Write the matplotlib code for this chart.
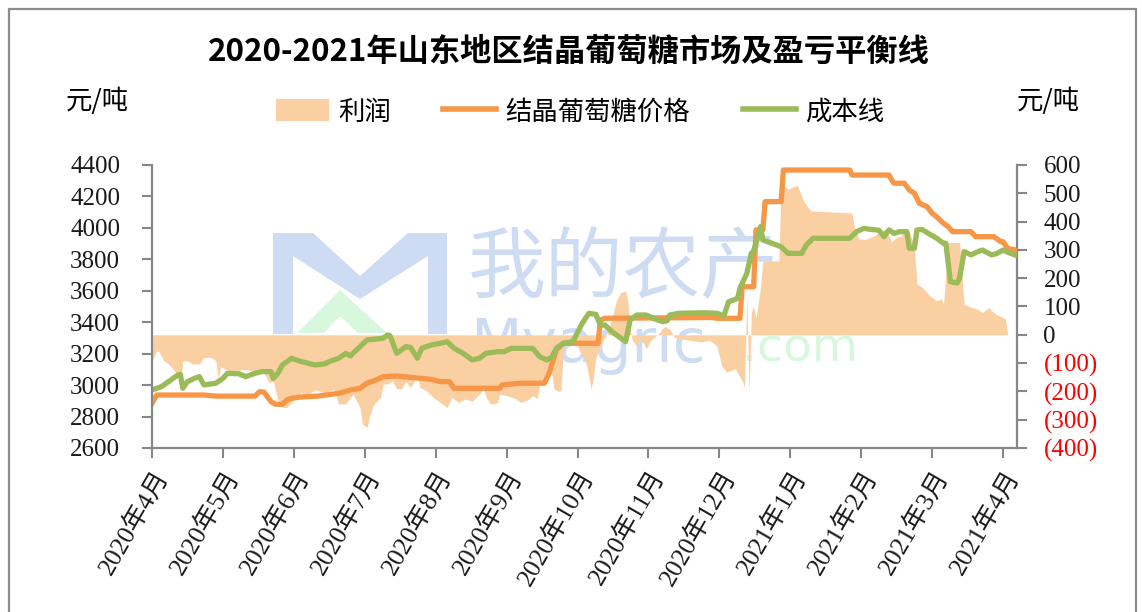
import datetime as dt
import calendar
import matplotlib
matplotlib.use("Agg")
import matplotlib.pyplot as plt
from matplotlib.patches import Polygon, Rectangle, Patch
from matplotlib.lines import Line2D
from matplotlib.ticker import FixedLocator, FuncFormatter

CJK = ["Noto Sans CJK SC", "DejaVu Sans"]
SERIF = ["Liberation Serif", "Noto Sans CJK SC"]

title = "2020-2021年山东地区结晶葡萄糖市场及盈亏平衡线"
unit = "元/吨"
series_names = ["利润", "结晶葡萄糖价格", "成本线"]
tick_labels = ["2020年4月", "2020年5月", "2020年6月", "2020年7月", "2020年8月",
               "2020年9月", "2020年10月", "2020年11月", "2020年12月",
               "2021年1月", "2021年2月", "2021年3月", "2021年4月"]

price_dates = ["2020-04-01", "2020-04-03", "2020-04-23", "2020-04-28", "2020-05-15", "2020-05-17",
               "2020-05-19", "2020-05-22", "2020-05-24", "2020-05-27", "2020-05-29", "2020-05-31",
               "2020-06-04", "2020-06-11", "2020-06-20", "2020-06-25", "2020-06-29", "2020-07-02",
               "2020-07-06", "2020-07-09", "2020-07-15", "2020-07-22", "2020-07-30", "2020-08-03",
               "2020-08-07", "2020-08-09", "2020-08-29", "2020-08-30", "2020-09-07", "2020-09-17",
               "2020-09-19", "2020-09-22", "2020-09-25", "2020-10-10", "2020-10-11", "2020-10-13",
               "2020-11-28", "2020-11-30", "2020-12-10", "2020-12-11", "2020-12-16", "2020-12-17",
               "2020-12-20", "2020-12-21", "2020-12-28", "2020-12-29", "2021-01-27", "2021-01-28",
               "2021-02-12", "2021-02-13", "2021-02-14", "2021-02-18", "2021-02-20", "2021-02-22",
               "2021-02-24", "2021-02-27", "2021-03-01", "2021-03-03", "2021-03-06", "2021-03-08",
               "2021-03-10", "2021-03-18", "2021-03-20", "2021-03-28", "2021-03-31", "2021-04-01",
               "2021-04-03", "2021-04-06"]
price_vals = [2885, 2937, 2937, 2930, 2930, 2958,
              2955, 2895, 2878, 2878, 2906, 2916,
              2925, 2930, 2948, 2969, 2980, 3012,
              3033, 3054, 3058, 3048, 3037, 3022,
              3022, 2980, 2980, 3001, 3012, 3012,
              3075, 3223, 3266, 3266, 3414, 3425,
              3430, 3425, 3425, 3626, 3626, 3987,
              3987, 4167, 4167, 4368, 4368, 4336,
              4336, 4305, 4284, 4284, 4241, 4220,
              4156, 4135, 4093, 4070, 4029, 4008,
              3976, 3976, 3944, 3944, 3912, 3912,
              3870, 3860]

cost_dates = ["2020-04-01", "2020-04-05", "2020-04-09", "2020-04-12", "2020-04-13", "2020-04-14",
              "2020-04-16", "2020-04-19", "2020-04-21", "2020-04-23", "2020-04-28", "2020-05-01",
              "2020-05-03", "2020-05-08", "2020-05-11", "2020-05-15", "2020-05-18", "2020-05-22",
              "2020-05-23", "2020-05-25", "2020-05-27", "2020-05-31", "2020-06-04", "2020-06-10",
              "2020-06-14", "2020-06-16", "2020-06-20", "2020-06-23", "2020-06-25", "2020-06-26",
              "2020-06-29", "2020-07-02", "2020-07-09", "2020-07-11", "2020-07-12", "2020-07-15",
              "2020-07-19", "2020-07-21", "2020-07-24", "2020-07-26", "2020-07-30", "2020-08-03",
              "2020-08-06", "2020-08-09", "2020-08-13", "2020-08-17", "2020-08-20", "2020-08-23",
              "2020-08-28", "2020-08-31", "2020-09-03", "2020-09-12", "2020-09-15", "2020-09-18",
              "2020-09-20", "2020-09-22", "2020-09-25", "2020-09-29", "2020-10-03", "2020-10-06",
              "2020-10-09", "2020-10-11", "2020-10-13", "2020-10-16", "2020-10-20", "2020-10-22",
              "2020-10-24", "2020-10-27", "2020-10-31", "2020-11-03", "2020-11-07", "2020-11-09",
              "2020-11-10", "2020-11-14", "2020-11-24", "2020-11-30", "2020-12-03", "2020-12-05",
              "2020-12-09", "2020-12-10", "2020-12-13", "2020-12-15", "2020-12-16", "2020-12-19",
              "2020-12-20", "2020-12-24", "2020-12-28", "2020-12-31", "2021-01-06", "2021-01-08",
              "2021-01-11", "2021-01-27", "2021-01-30", "2021-02-02", "2021-02-04", "2021-02-08",
              "2021-02-10", "2021-02-12", "2021-02-14", "2021-02-16", "2021-02-19", "2021-02-20",
              "2021-02-22", "2021-02-23", "2021-02-25", "2021-02-27", "2021-03-03", "2021-03-06",
              "2021-03-07", "2021-03-09", "2021-03-12", "2021-03-13", "2021-03-15", "2021-03-18",
              "2021-03-21", "2021-03-23", "2021-03-27", "2021-03-29", "2021-04-01", "2021-04-03",
              "2021-04-06"]
cost_vals = [2969, 2990, 3033, 3065, 3068, 2980,
             3022, 3043, 3054, 3001, 3012, 3043,
             3075, 3072, 3054, 3075, 3086, 3086,
             3043, 3075, 3128, 3171, 3150, 3128,
             3135, 3150, 3171, 3202, 3185, 3202,
             3245, 3287, 3298, 3319, 3315, 3202,
             3245, 3240, 3171, 3235, 3255, 3266,
             3276, 3235, 3202, 3160, 3170, 3202,
             3213, 3213, 3234, 3234, 3181, 3160,
             3175, 3234, 3266, 3276, 3392, 3457,
             3450, 3382, 3382, 3340, 3298, 3276,
             3414, 3446, 3446, 3425, 3403, 3410,
             3446, 3457, 3460, 3457, 3440, 3530,
             3552, 3616, 3711, 3838, 3850, 4008,
             3923, 3902, 3880, 3838, 3838, 3891,
             3934, 3934, 3976, 3997, 3992, 3985,
             3944, 3987, 3965, 3976, 3976, 3870,
             3870, 3987, 3990, 3970, 3934, 3902,
             3902, 3658, 3650, 3680, 3849, 3828,
             3849, 3859, 3828, 3835, 3859, 3845,
             3828]

profit_dates = ["2020-04-01", "2020-04-03", "2020-04-04", "2020-04-06", "2020-04-08", "2020-04-11",
                "2020-04-12", "2020-04-13", "2020-04-14", "2020-04-16", "2020-04-18", "2020-04-21",
                "2020-04-23", "2020-04-26", "2020-04-28", "2020-04-29", "2020-04-30", "2020-05-05",
                "2020-05-08", "2020-05-09", "2020-05-12", "2020-05-15", "2020-05-19", "2020-05-21",
                "2020-05-23", "2020-05-25", "2020-05-27", "2020-05-29", "2020-06-01", "2020-06-04",
                "2020-06-07", "2020-06-10", "2020-06-14", "2020-06-18", "2020-06-20", "2020-06-23",
                "2020-06-26", "2020-06-28", "2020-06-29", "2020-06-30", "2020-07-02", "2020-07-03",
                "2020-07-05", "2020-07-08", "2020-07-09", "2020-07-11", "2020-07-13", "2020-07-15",
                "2020-07-17", "2020-07-19", "2020-07-21", "2020-07-23", "2020-07-24", "2020-07-25",
                "2020-07-28", "2020-07-31", "2020-08-03", "2020-08-06", "2020-08-08", "2020-08-11",
                "2020-08-14", "2020-08-17", "2020-08-20", "2020-08-22", "2020-08-23", "2020-08-25",
                "2020-08-28", "2020-08-29", "2020-09-01", "2020-09-05", "2020-09-07", "2020-09-10",
                "2020-09-12", "2020-09-14", "2020-09-15", "2020-09-17", "2020-09-18", "2020-09-20",
                "2020-09-21", "2020-09-23", "2020-09-24", "2020-09-25", "2020-09-26", "2020-09-28",
                "2020-09-30", "2020-10-02", "2020-10-04", "2020-10-05", "2020-10-06", "2020-10-07",
                "2020-10-08", "2020-10-09", "2020-10-11", "2020-10-12", "2020-10-14", "2020-10-16",
                "2020-10-18", "2020-10-20", "2020-10-22", "2020-10-23", "2020-10-24", "2020-10-25",
                "2020-10-27", "2020-10-28", "2020-10-30", "2020-10-31", "2020-11-02", "2020-11-06",
                "2020-11-08", "2020-11-10", "2020-11-12", "2020-11-19", "2020-11-23", "2020-11-27",
                "2020-11-30", "2020-12-02", "2020-12-04", "2020-12-05", "2020-12-08", "2020-12-10",
                "2020-12-11", "2020-12-12", "2020-12-13", "2020-12-14", "2020-12-15", "2020-12-16",
                "2020-12-17", "2020-12-19", "2020-12-20", "2020-12-27", "2020-12-28", "2020-12-31",
                "2021-01-03", "2021-01-04", "2021-01-06", "2021-01-07", "2021-01-10", "2021-01-28",
                "2021-01-29", "2021-01-30", "2021-01-31", "2021-02-03", "2021-02-06", "2021-02-10",
                "2021-02-11", "2021-02-13", "2021-02-15", "2021-02-17", "2021-02-18", "2021-02-20",
                "2021-02-22", "2021-02-23", "2021-02-25", "2021-02-27", "2021-02-28", "2021-03-01",
                "2021-03-03", "2021-03-05", "2021-03-06", "2021-03-08", "2021-03-13", "2021-03-15",
                "2021-03-18", "2021-03-21", "2021-03-23", "2021-03-26", "2021-03-27", "2021-03-29",
                "2021-03-31", "2021-04-02", "2021-04-03", "2021-04-06"]
profit_vals = [-92, -57, -60, -92, -103, -133,
               -135, -192, -92, -92, -103, -103,
               -80, -80, -92, -155, -113, -133,
               -128, -123, -123, -133, -133, -168,
               -165, -230, -257, -257, -228, -204,
               -210, -194, -204, -194, -245, -244,
               -210, -240, -257, -315, -328, -290,
               -245, -220, -174, -174, -163, -190,
               -192, -165, -185, -160, -139, -185,
               -198, -222, -239, -257, -220, -239,
               -227, -235, -210, -190, -220, -245,
               -240, -210, -215, -226, -239, -230,
               -215, -226, -173, -160, -140, -127,
               -190, -200, -198, -57, -30, -15,
               -20, -60, -80, -110, -150, -191,
               -150, -80, -40, -20, 0, 60,
               120, 150, 155, 120, 20, -20,
               -40, -15, -30, -50, -20, 10,
               30, 20, -10, -20, -25, -20,
               -40, -110, -130, -130, -120, -150,
               -163, -186, 144, -210, 80, 100,
               60, 167, 261, 261, 533, 515,
               525, 530, 490, 470, 438, 430,
               380, 365, 338, 338, 349, 373,
               368, 328, 345, 350, 373, 365,
               309, 179, 168, 150, 138, 132,
               120, 128, 108, 326, 326, 108,
               97, 90, 79, 97, 85, 72,
               65, 56, 0, 0]

left_ticks = [2600, 2800, 3000, 3200, 3400, 3600, 3800, 4000, 4200, 4400]
right_ticks = [-400, -300, -200, -100, 0, 100, 200, 300, 400, 500, 600]


def month_pos(s):
    d = dt.date.fromisoformat(s)
    n = calendar.monthrange(d.year, d.month)[1]
    return (d.year - 2020) * 12 + (d.month - 4) + (d.day - 1) / n


price_x = [month_pos(s) for s in price_dates]
cost_x = [month_pos(s) for s in cost_dates]
profit_x = [month_pos(s) for s in profit_dates]

W, H = 1142, 612
fig = plt.figure(figsize=(W / 100, H / 100), dpi=100)
fig.patch.set_facecolor("white")


def fx(x):
    return x / W


def fy(y):
    return 1 - y / H


# outer frame
fig.add_artist(Rectangle((fx(9), fy(640)), fx(1136) - fx(9), fy(9) - fy(640),
                         transform=fig.transFigure, fill=False,
                         edgecolor="#8c8c8c", linewidth=1.6, zorder=0.2))

# watermark
wm_blue = "#cddcf3"
wm_green = "#d8f8de"
m_logo = [(273, 233), (313, 233), (360, 276), (408, 233), (447, 233), (447, 334),
          (428, 334), (428, 256), (360, 299), (293, 256), (293, 334), (273, 334)]
fig.add_artist(Polygon([(fx(a), fy(b)) for a, b in m_logo], closed=True,
                       transform=fig.transFigure, facecolor=wm_blue,
                       edgecolor="none", zorder=0.3))
chev = [(297, 333), (340, 290), (387, 333), (358, 333), (340, 316), (324, 333)]
fig.add_artist(Polygon([(fx(a), fy(b)) for a, b in chev], closed=True,
                       transform=fig.transFigure, facecolor=wm_green,
                       edgecolor="none", zorder=0.3))
fig.text(fx(468), fy(270), "我的农产", fontsize=56, color=wm_blue,
         family=CJK, va="center", ha="left", zorder=0.3)
fig.text(fx(470), fy(362), "Myagric", fontsize=43, color=wm_blue,
         family=["DejaVu Sans"], va="baseline", ha="left", zorder=0.3)
fig.text(fx(742), fy(362), ".com", fontsize=34, color=wm_green,
         family=["DejaVu Sans"], va="baseline", ha="left", zorder=0.3)

# axes
ax = fig.add_axes([fx(152), fy(448), fx(1017) - fx(152), fy(165) - fy(448)])
ax2 = ax.twinx()
ax2.set_zorder(1)
ax.set_zorder(2)
ax.patch.set_visible(False)
ax2.patch.set_visible(False)

fill_color = "#fad0a3"
orange = "#f79646"
green = "#9bbb59"

ax2.fill_between(profit_x, 0, profit_vals, color=fill_color, linewidth=0)
ax.plot(price_x, price_vals, color=orange, linewidth=3.8, solid_joinstyle="round")
ax.plot(cost_x, cost_vals, color=green, linewidth=3.8, solid_joinstyle="round")

ax.set_xlim(0, 12.197)
ax.set_ylim(2600, 4400)
ax2.set_ylim(-400, 600)

spine_c = "#878787"
for a in (ax, ax2):
    a.spines["top"].set_visible(False)
    for side in ("left", "right", "bottom"):
        a.spines[side].set_color(spine_c)
        a.spines[side].set_linewidth(1.6)
ax.spines["right"].set_visible(False)
ax2.spines["left"].set_visible(False)
ax2.spines["bottom"].set_visible(False)

ax.yaxis.set_major_locator(FixedLocator(left_ticks))
ax.set_yticklabels([str(v) for v in left_ticks])
ax2.yaxis.set_major_locator(FixedLocator(right_ticks))
ax2.yaxis.set_major_formatter(FuncFormatter(
    lambda v, p: f"({abs(int(round(v)))})" if v < 0 else f"{int(round(v))}"))

ax.xaxis.set_major_locator(FixedLocator(list(range(len(tick_labels)))))
ax.set_xticklabels(tick_labels, rotation=60, ha="right", rotation_mode="anchor")

ax.tick_params(axis="y", direction="out", length=7, width=1.5, color=spine_c,
               labelsize=18, pad=16, labelcolor="#1a1a1a")
ax.tick_params(axis="x", direction="out", length=7, width=1.5, color=spine_c,
               labelsize=18.5, pad=6, labelcolor="#1a1a1a")
ax2.tick_params(axis="y", direction="out", length=7, width=1.5, color=spine_c,
                labelsize=18, pad=12, labelcolor="#1a1a1a")

for lab in ax.get_yticklabels() + ax.get_xticklabels() + ax2.get_yticklabels():
    lab.set_family(SERIF)
for v, lab in zip(right_ticks, ax2.get_yticklabels()):
    if v < 0:
        lab.set_color("#ff0000")

# title, units
fig.text(fx(569), fy(52), title, fontsize=22.5, fontweight="bold",
         family=CJK, ha="center", va="center", color="black")
fig.text(fx(66), fy(101), unit, fontsize=19, family=CJK, ha="left",
         va="center", color="black")
fig.text(fx(1017), fy(101), unit, fontsize=19, family=CJK, ha="left",
         va="center", color="black")

handles = [Patch(facecolor=fill_color, edgecolor="none"),
           Line2D([], [], color=orange, linewidth=4),
           Line2D([], [], color=green, linewidth=4)]
leg = fig.legend(handles, series_names, loc="center", bbox_to_anchor=(fx(580), fy(112)),
                 ncol=3, frameon=False, handlelength=2.0, handleheight=0.9,
                 columnspacing=2.0, handletextpad=0.35,
                 prop={"family": CJK, "size": 19})

fig.savefig("out.png", dpi=100, facecolor="white")
